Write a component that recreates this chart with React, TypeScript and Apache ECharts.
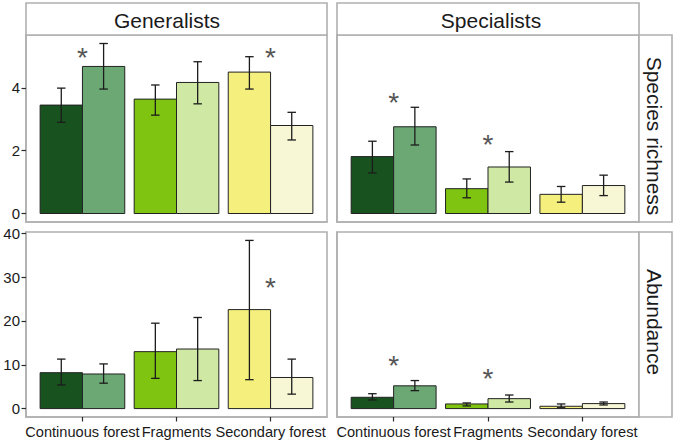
import React, { useEffect, useRef } from "react";
import * as echarts from "echarts";

const categories = ["Continuous forest", "Fragments", "Secondary forest"];
const columnLabels = ["Generalists", "Specialists"];
const rowLabels = ["Species richness", "Abundance"];
const richnessTicks = [0, 2, 4];
const abundanceTicks = [0, 10, 20, 30, 40];
const categoryTicks = [1, 2, 3];

// Generalists – species richness
const genRichA = [3.45, 3.64, 4.5];
const genRichALo = [2.9, 3.13, 3.96];
const genRichAHi = [3.99, 4.09, 4.99];
const genRichB = [4.68, 4.17, 2.8];
const genRichBLo = [3.96, 3.49, 2.34];
const genRichBHi = [5.41, 4.83, 3.22];
const genRichStars = [[1, 5.15], [3, 5.15]];

// Specialists – species richness
const speRichA = [1.81, 0.79, 0.61];
const speRichALo = [1.29, 0.5, 0.36];
const speRichAHi = [2.3, 1.1, 0.86];
const speRichB = [2.76, 1.48, 0.89];
const speRichBLo = [2.18, 1.0, 0.57];
const speRichBHi = [3.38, 1.97, 1.22];
const speRichStars = [[1, 3.72], [2, 2.39]];

// Generalists – abundance
const genAbunA = [8.2, 13.0, 22.6];
const genAbunALo = [5.4, 6.9, 6.6];
const genAbunAHi = [11.3, 19.5, 38.4];
const genAbunB = [7.9, 13.6, 7.1];
const genAbunBLo = [5.8, 6.4, 3.3];
const genAbunBHi = [10.2, 20.8, 11.3];
const genAbunStars = [[3, 29.1]];

// Specialists – abundance
const speAbunA = [2.58, 1.06, 0.53];
const speAbunALo = [1.97, 0.6, 0.2];
const speAbunAHi = [3.4, 1.29, 1.06];
const speAbunB = [5.2, 2.27, 1.14];
const speAbunBLo = [4.1, 1.5, 0.83];
const speAbunBHi = [6.4, 3.1, 1.5];
const speAbunStars = [[1, 11.1], [2, 8.3]];

const colorsA = ["#18521f", "#7fc410", "#f5f07e"];
const colorsB = ["#6ba874", "#cfe8a4", "#f7f6d5"];

const BAR_W = 0.45;
const CAP_W = 0.09;
const FONT = "'Liberation Sans', Arial, sans-serif";
const BORDER = "#b0b0b0";

function buildItems(a: number[], aLo: number[], aHi: number[], b: number[], bLo: number[], bHi: number[]) {
  const items: number[][] = [];
  for (let i = 0; i < categories.length; i++) {
    items.push([i + 1, a[i], 0, aLo[i], aHi[i]]);
    items.push([i + 1, b[i], 1, bLo[i], bHi[i]]);
  }
  return items;
}

const barRender = (params: any, api: any) => {
  const x = api.value(0);
  const v = api.value(1);
  const pair = api.value(2);
  const lo = api.value(3);
  const hi = api.value(4);
  const x0 = x - BAR_W + pair * BAR_W;
  const x1 = x0 + BAR_W;
  const xm = (x0 + x1) / 2;
  const pTop = api.coord([x0, v]);
  const pBot = api.coord([x1, 0]);
  const pLo = api.coord([xm, lo]);
  const pHi = api.coord([xm, hi]);
  const cap = api.size([CAP_W, 0])[0] / 2;
  const fill = (pair ? colorsB : colorsA)[x - 1];
  const es = { stroke: "#1c1c1c", lineWidth: 1.3 };
  return {
    type: "group",
    children: [
      {
        type: "rect",
        shape: { x: pTop[0], y: pTop[1], width: pBot[0] - pTop[0], height: pBot[1] - pTop[1] },
        style: { fill, stroke: "#222", lineWidth: 1 },
      },
      { type: "line", shape: { x1: pLo[0], y1: pLo[1], x2: pHi[0], y2: pHi[1] }, style: es },
      { type: "line", shape: { x1: pLo[0] - cap, y1: pLo[1], x2: pLo[0] + cap, y2: pLo[1] }, style: es },
      { type: "line", shape: { x1: pHi[0] - cap, y1: pHi[1], x2: pHi[0] + cap, y2: pHi[1] }, style: es },
    ],
  };
};

const starRender = (params: any, api: any) => {
  const p = api.coord([api.value(0), api.value(1)]);
  return {
    type: "text",
    x: p[0],
    y: p[1] + 6,
    style: { text: "*", fontSize: 28, fontFamily: FONT, fill: "#555", align: "center", verticalAlign: "middle" },
  };
};

function expandedRange(hiArrays: number[][]) {
  let m = 0;
  hiArrays.forEach((arr) => arr.forEach((v) => (m = Math.max(m, v))));
  return { min: -0.05 * m, max: 1.05 * m };
}

export default function App() {
  const ref = useRef<HTMLDivElement>(null);
  useEffect(() => {
    if (!ref.current) return;
    const chart = echarts.init(ref.current, null, { renderer: "svg" });

    const richRange = expandedRange([genRichAHi, genRichBHi, speRichAHi, speRichBHi]);
    const abunRange = expandedRange([genAbunAHi, genAbunBHi, speAbunAHi, speAbunBHi]);

    const grids = [
      { left: 26, top: 35, width: 301, height: 187 },
      { left: 337, top: 35, width: 302, height: 187 },
      { left: 26, top: 232, width: 301, height: 185 },
      { left: 337, top: 232, width: 302, height: 185 },
    ].map((g) => ({ ...g, show: true, borderColor: BORDER, borderWidth: 1.6, backgroundColor: "transparent", containLabel: false }));

    const tickStyle = { color: "#2a2a2a", width: 1.2 };

    const xAxes = [0, 1, 2, 3].map((i) => ({
      type: "value",
      gridIndex: i,
      position: "bottom",
      min: 0.4,
      max: 3.6,
      splitLine: { show: false },
      axisLine: { show: true, onZero: false, lineStyle: { color: BORDER, width: 1.6 } },
      axisTick: { show: i >= 2, length: 4.5, lineStyle: tickStyle, customValues: categoryTicks },
      axisLabel: {
        show: i >= 2,
        customValues: categoryTicks,
        formatter: (v: number) => categories[Math.round(v) - 1] ?? "",
        fontSize: 14.6,
        fontFamily: FONT,
        color: "#1a1a1a",
        margin: 7,
        hideOverlap: false,
        showMinLabel: true,
        showMaxLabel: true,
      },
    }));

    const yAxes = [0, 1, 2, 3].map((i) => {
      const range = i < 2 ? richRange : abunRange;
      const ticks = i < 2 ? richnessTicks : abundanceTicks;
      const showAx = i % 2 === 0;
      return {
        type: "value",
        gridIndex: i,
        position: "left",
        min: range.min,
        max: range.max,
        splitLine: { show: false },
        axisLine: { show: true, onZero: false, lineStyle: { color: BORDER, width: 1.6 } },
        axisTick: { show: showAx, length: 4.5, lineStyle: tickStyle, customValues: ticks },
        axisLabel: {
          show: showAx,
          customValues: ticks,
          fontSize: 15,
          fontFamily: FONT,
          color: "#1a1a1a",
          margin: 6,
          hideOverlap: false,
          showMinLabel: true,
          showMaxLabel: true,
        },
      };
    });

    const panelItems = [
      buildItems(genRichA, genRichALo, genRichAHi, genRichB, genRichBLo, genRichBHi),
      buildItems(speRichA, speRichALo, speRichAHi, speRichB, speRichBLo, speRichBHi),
      buildItems(genAbunA, genAbunALo, genAbunAHi, genAbunB, genAbunBLo, genAbunBHi),
      buildItems(speAbunA, speAbunALo, speAbunAHi, speAbunB, speAbunBLo, speAbunBHi),
    ];
    const panelStars = [genRichStars, speRichStars, genAbunStars, speAbunStars];

    const series: any[] = [];
    panelItems.forEach((items, i) => {
      series.push({
        type: "custom",
        xAxisIndex: i,
        yAxisIndex: i,
        renderItem: barRender,
        encode: { x: 0, y: [1, 3, 4] },
        data: items,
        silent: true,
      });
      series.push({
        type: "custom",
        xAxisIndex: i,
        yAxisIndex: i,
        renderItem: starRender,
        encode: { x: 0, y: 1 },
        data: panelStars[i],
        silent: true,
      });
    });

    const stripStyle = { fill: "#fff", stroke: BORDER, lineWidth: 1.6 };
    const textStyle = { fontSize: 21, fontFamily: FONT, fill: "#1a1a1a", align: "center", verticalAlign: "middle" };
    const graphic = [
      { type: "rect", shape: { x: 26, y: 3, width: 301, height: 32 }, style: stripStyle },
      { type: "rect", shape: { x: 337, y: 3, width: 302, height: 32 }, style: stripStyle },
      { type: "rect", shape: { x: 639, y: 35, width: 33, height: 187 }, style: stripStyle },
      { type: "rect", shape: { x: 639, y: 232, width: 33, height: 185 }, style: stripStyle },
      { type: "text", x: 167, y: 20, style: { ...textStyle, text: columnLabels[0] } },
      { type: "text", x: 491, y: 20, style: { ...textStyle, text: columnLabels[1] } },
      { type: "text", x: 654, y: 136, rotation: -Math.PI / 2, style: { ...textStyle, text: rowLabels[0] } },
      { type: "text", x: 654, y: 322, rotation: -Math.PI / 2, style: { ...textStyle, text: rowLabels[1] } },
    ];

    chart.setOption({
      animation: false,
      backgroundColor: "#fff",
      grid: grids,
      xAxis: xAxes,
      yAxis: yAxes,
      series,
      graphic,
    });
    return () => chart.dispose();
  }, []);
  return <div ref={ref} style={{ position: "absolute", left: 0, top: 0, width: 675, height: 444 }} />;
}
